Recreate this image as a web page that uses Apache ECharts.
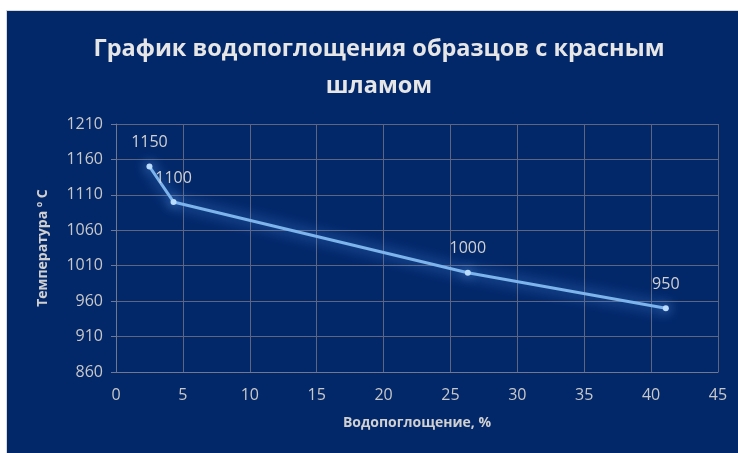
<!DOCTYPE html>
<html>
<head>
<meta charset="utf-8">
<script src="https://cdn.jsdelivr.net/npm/echarts@6/dist/echarts.min.js"></script>
<style>
  html, body { margin: 0; padding: 0; background: #ffffff; }
  #echart1 {
    position: absolute; left: 6px; top: 10px;
    width: 732px; height: 443px;
    background: #03286a;
    border-left: 1px solid #d9d9d9; border-top: 1px solid #d9d9d9;
  }
</style>
</head>
<body>
<div id="echart1"></div>
<script>
  /*----- data -----*/
  var absorption = [2.5, 4.3, 26.3, 41.1];
  var temperature = [1150, 1100, 1000, 950];
  var xTicks = [0, 45, 5];
  var yTicks = [860, 1210, 50];

  var points = absorption.map(function (x, i) { return [x, temperature[i]]; });

  var chart = echarts.init(document.getElementById('echart1'));
  var option = {
    backgroundColor: '#03286a',
    title: {
      text: 'График водопоглощения образцов с красным\nшламом',
      left: 367,
      textAlign: 'center',
      top: 15,
      textStyle: {
        color: '#e6e6e6',
        fontFamily: 'Open Sans',
        fontWeight: 'bold',
        fontSize: 23.5,
        lineHeight: 37
      }
    },
    grid: {
      left: 109,
      right: 21,
      top: 113,
      bottom: 82
    },
    xAxis: {
      type: 'value',
      min: xTicks[0],
      max: xTicks[1],
      interval: xTicks[2],
      name: 'Водопоглощение, %',
      nameLocation: 'middle',
      nameGap: 44,
      nameTextStyle: { color: '#d0d0d0', fontWeight: 'bold', fontSize: 14, fontFamily: 'Open Sans' },
      axisLine: { lineStyle: { color: '#6f7890' } },
      axisTick: { show: false },
      axisLabel: { color: '#c8c8c8', fontSize: 16, fontFamily: 'Open Sans', margin: 15 },
      splitLine: { lineStyle: { color: '#5e6580', width: 1 } }
    },
    yAxis: {
      type: 'value',
      min: yTicks[0],
      max: yTicks[1],
      interval: yTicks[2],
      name: 'Температура º С',
      nameLocation: 'middle',
      nameGap: 66,
      nameTextStyle: { color: '#d0d0d0', fontWeight: 'bold', fontSize: 14, fontFamily: 'Open Sans' },
      axisLine: { show: true, lineStyle: { color: '#6f7890' } },
      axisTick: { show: true, length: 5, lineStyle: { color: '#6f7890' } },
      axisLabel: {
        color: '#c8c8c8', fontSize: 16, fontFamily: 'Open Sans', margin: 13,
        formatter: function (v) { return String(v); }
      },
      splitLine: { lineStyle: { color: '#5e6580', width: 1 } }
    },
    series: [
      {
        type: 'line',
        data: points,
        symbol: 'circle',
        symbolSize: 6,
        lineStyle: {
          width: 3,
          color: '#7db4ec',
          shadowColor: 'rgba(90,160,255,0.9)',
          shadowBlur: 14
        },
        itemStyle: {
          color: '#b9dcff',
          shadowColor: 'rgba(120,180,255,1)',
          shadowBlur: 12
        },
        label: {
          show: true,
          position: 'top',
          distance: 13,
          color: '#d0d0d0',
          fontSize: 16,
          fontFamily: 'Open Sans'
        }
      }
    ]
  };
  chart.setOption(option);
</script>
</body>
</html>
